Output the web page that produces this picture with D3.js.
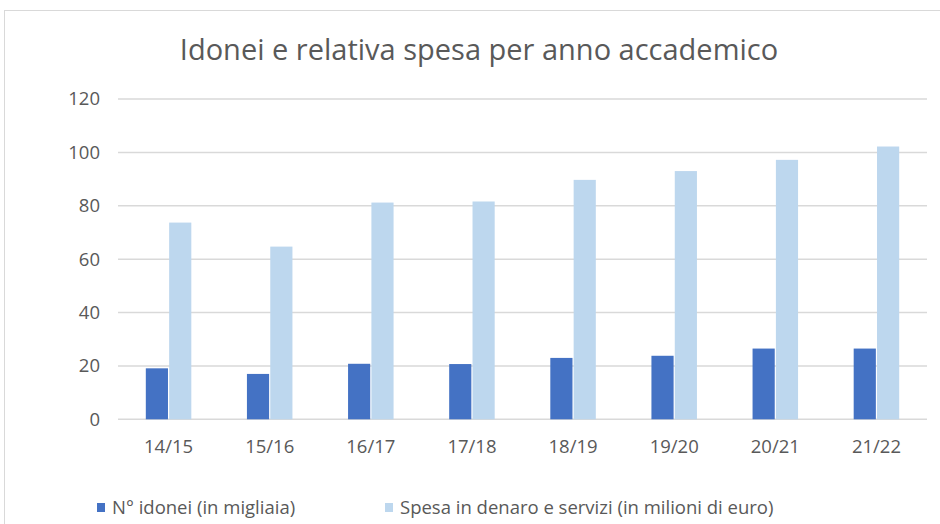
<!DOCTYPE html>
<html>
<head>
<meta charset="utf-8">
<script src="https://cdn.jsdelivr.net/npm/d3@7"></script>
<style>
  body { margin: 0; background: #fff; }
  text { font-family: "Open Sans", sans-serif; fill: #595959; }
</style>
</head>
<body>
<div id="chart"></div>
<script>
const anni = ['14/15', '15/16', '16/17', '17/18', '18/19', '19/20', '20/21', '21/22'];
const idonei = [19.1, 17.0, 20.8, 20.7, 23.0, 23.8, 26.5, 26.5];
const spesa = [73.7, 64.7, 81.2, 81.6, 89.7, 93.0, 97.2, 102.2];
const serie = ['N° idonei (in migliaia)', 'Spesa in denaro e servizi (in milioni di euro)'];
const yTicks = [0, 20, 40, 60, 80, 100, 120];

const width = 940;
const height = 524;
const margin = { top: 99, right: 13, bottom: 105, left: 118 };

const svg = d3.select('#chart')
  .append('svg')
  .attr('width', width)
  .attr('height', height);

// chart border
svg.append('rect')
  .attr('x', 4.5).attr('y', 10.5)
  .attr('width', width).attr('height', height)
  .attr('fill', 'none')
  .attr('stroke', '#d9d9d9');

const x0 = d3.scaleBand()
  .domain(anni)
  .range([margin.left, width - margin.right])
  .paddingInner(0.55)
  .paddingOuter(0.275);

const x1 = d3.scaleBand()
  .domain(serie)
  .range([0, x0.bandwidth()])
  .paddingInner(0.05);

const y = d3.scaleLinear()
  .domain([0, 120])
  .range([height - margin.bottom + 0.3, margin.top]);

const color = d3.scaleOrdinal().domain(serie).range(['#4472c4', '#bdd7ee']);

// gridlines
svg.append('g')
  .selectAll('line')
  .data(yTicks)
  .enter()
  .append('line')
  .attr('x1', margin.left)
  .attr('x2', width - margin.right)
  .attr('y1', d => y(d))
  .attr('y2', d => y(d))
  .attr('stroke', '#d9d9d9')
  .attr('stroke-width', 1.5);

// y axis labels
const yAxis = d3.axisLeft(y).tickValues(yTicks).tickSize(0).tickPadding(18);
svg.append('g')
  .attr('transform', `translate(${margin.left},0)`)
  .call(yAxis)
  .call(g => g.select('.domain').remove())
  .call(g => g.selectAll('text')
    .style('font-family', '"Open Sans", sans-serif')
    .style('font-size', '18.5px')
    .attr('fill', '#595959'));

// x axis labels
const xAxis = d3.axisBottom(x0).tickSize(0).tickPadding(21);
svg.append('g')
  .attr('transform', `translate(0,${y(0)})`)
  .call(xAxis)
  .call(g => g.select('.domain').remove())
  .call(g => g.selectAll('text')
    .style('font-family', '"Open Sans", sans-serif')
    .style('font-size', '18.5px')
    .attr('fill', '#595959'));

const rows = anni.map((a, i) => ({ anno: a, valori: [idonei[i], spesa[i]] }));

const group = svg.append('g')
  .selectAll('g')
  .data(rows)
  .enter()
  .append('g')
  .attr('transform', d => `translate(${x0(d.anno)},0)`);

group.selectAll('rect')
  .data(d => d.valori.map((v, j) => ({ s: serie[j], v: v })))
  .enter()
  .append('rect')
  .attr('x', d => x1(d.s))
  .attr('width', x1.bandwidth())
  .attr('y', d => y(d.v))
  .attr('height', d => y(0) - y(d.v))
  .attr('fill', d => color(d.s));

// title
svg.append('text')
  .attr('x', 479)
  .attr('y', 60)
  .attr('text-anchor', 'middle')
  .style('font-size', '29px')
  .text('Idonei e relativa spesa per anno accademico');

// legend
const legendX = [97, 385];
const legend = svg.append('g')
  .selectAll('g')
  .data(serie)
  .enter()
  .append('g')
  .attr('transform', (d, i) => `translate(${legendX[i]},508)`);

legend.append('rect')
  .attr('x', 0)
  .attr('y', -5)
  .attr('width', 8)
  .attr('height', 9)
  .attr('fill', d => color(d));

legend.append('text')
  .attr('x', 15)
  .attr('y', 0)
  .attr('dy', '0.35em')
  .style('font-size', '18.5px')
  .text(d => d);
</script>
</body>
</html>
